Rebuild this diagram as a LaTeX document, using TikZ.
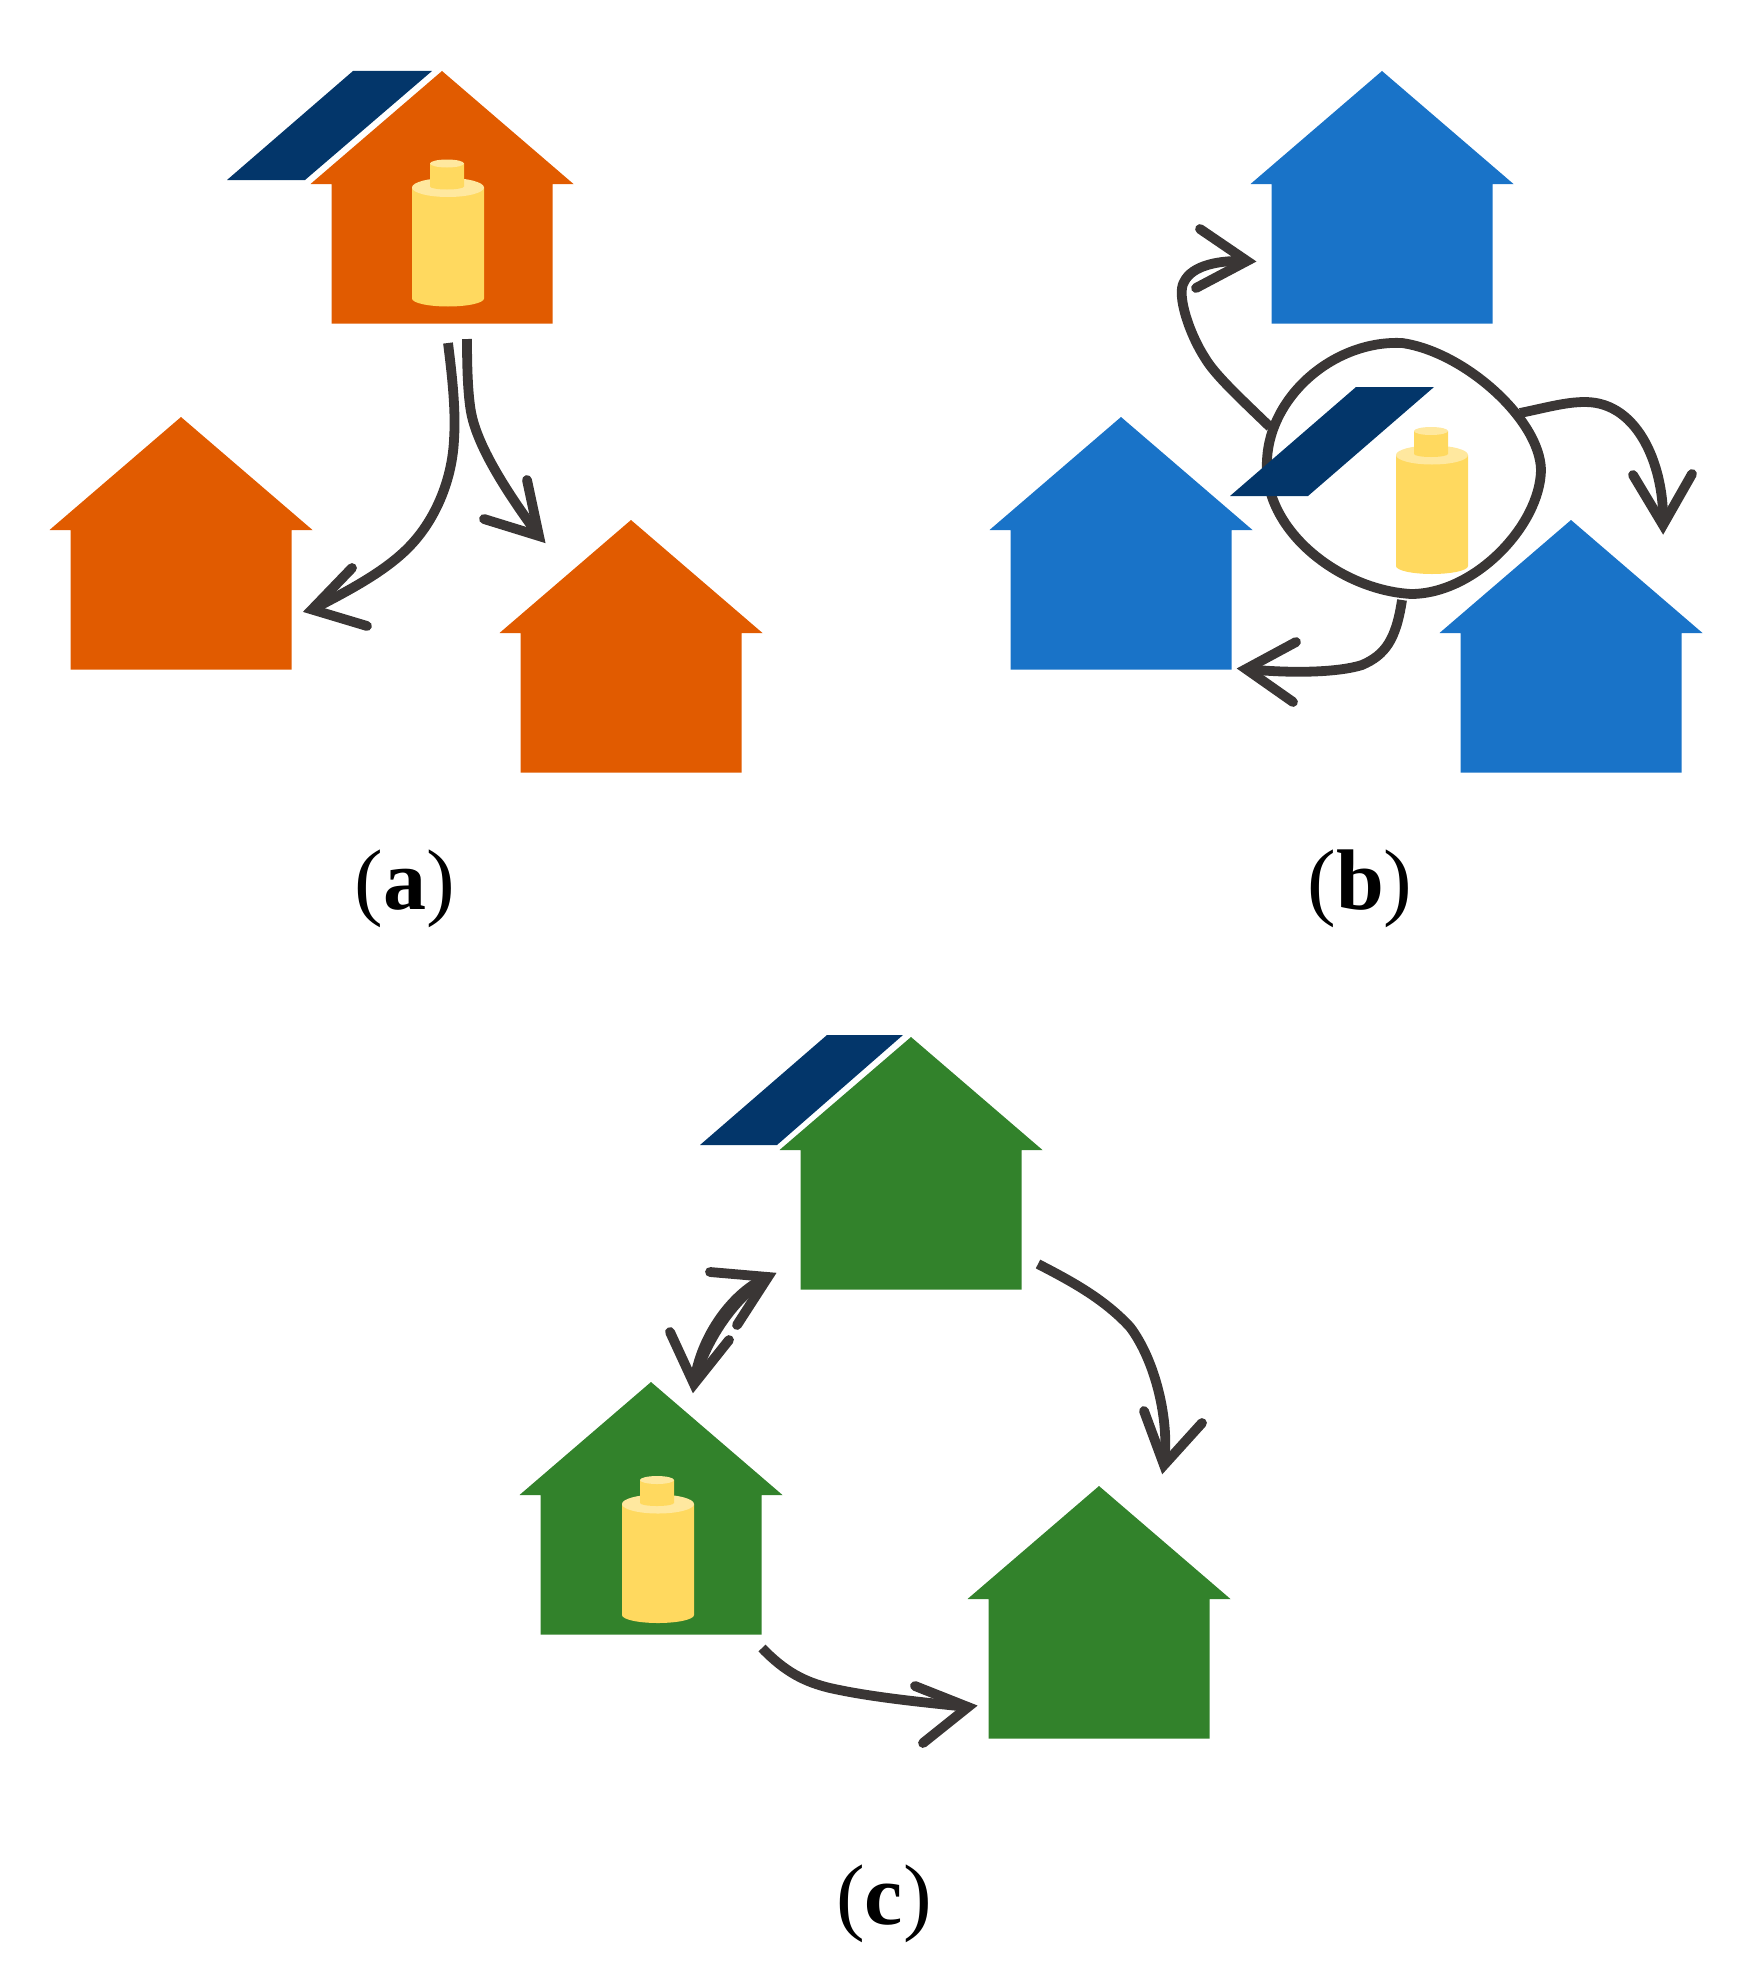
\documentclass[tikz,border=0pt]{standalone}
\usepackage{fontspec}
\setmainfont{Liberation Serif}
\definecolor{hOrange}{HTML}{E15B00}
\definecolor{hBlue}{HTML}{1973C8}
\definecolor{hGreen}{HTML}{32822B}
\definecolor{navy}{HTML}{03366A}
\definecolor{batt}{HTML}{FFD95F}
\definecolor{battTop}{HTML}{FFE89F}
\definecolor{ink}{HTML}{3A3635}
\tikzset{
  link/.style={draw=ink,line width=4.9pt,line cap=butt,line join=round},
  tip/.style={draw=ink,line width=4.9pt,line cap=round,line join=miter,miter limit=10},
  caption/.style={font=\fontsize{43pt}{48pt}\selectfont,text=black,inner sep=0pt},
  panelfill/.style={fill=navy},
  house/.pic={\fill[pic actions] (0,0) -- (131.5,113) -- (110.5,113) -- (110.5,252.5) -- (-110.5,252.5) -- (-110.5,113) -- (-131.5,113) -- cycle;},
  battery/.pic={
    \fill[batt] (0,0) -- (72,0) -- (72,111) arc[start angle=0,end angle=180,x radius=36,y radius=8] -- cycle;
    \fill[battTop] (36,0) ellipse[x radius=36,y radius=9.5];
    \fill[batt] (18,-24) -- (52,-24) -- (52,-1) arc[start angle=0,end angle=180,x radius=17,y radius=3] -- cycle;
    \fill[battTop] (35,-24) ellipse[x radius=17,y radius=4];
  }
}
\begin{document}
\begin{tikzpicture}[x=0.5pt,y=-0.5pt]
\useasboundingbox (0,0) rectangle (1756,1980);
% (a)
\pic[fill=hOrange] at (442,71) {house};
\pic[fill=hOrange] at (181,417) {house};
\pic[fill=hOrange] at (631,520) {house};
\fill[panelfill] (353,71) -- (432,71) -- (305,180) -- (227,180) -- cycle;
\pic at (412,187.5) {battery};
\coordinate (a1s) at (448,343);
\coordinate (a1t) at (312,609.5);
\coordinate (a2s) at (467,339);
\coordinate (a2t) at (539,536);
\draw[link] (a1s) .. controls (452,375) and (456,410) .. (454,440) .. controls (452,480) and (436,515) .. (417,538) .. controls (395,565) and (360,585) .. (a1t);
\draw[tip] (352,568) -- (a1t) -- (367,626);
\draw[link] (a2s) .. controls (467,370) and (468,395) .. (471,412) .. controls (477,445) and (505,490) .. (a2t);
\draw[tip] (527,480) -- (a2t) -- (484,519);
\node[caption] (capa) at (405,889) {(\textbf{a})};
% (b)
\pic[fill=hBlue] at (1382,71) {house};
\pic[fill=hBlue] at (1121,417) {house};
\pic[fill=hBlue] at (1571,520) {house};
\draw[link] (1402,343) .. controls (1465,352) and (1540,420) .. (1541,470) .. controls (1540,525) and (1475,594) .. (1411,594) .. controls (1340,590) and (1262,530) .. (1267,460) .. controls (1270,395) and (1335,340) .. cycle;
\fill[panelfill] (1356,387) -- (1434,387) -- (1308,496) -- (1230,496) -- cycle;
\pic at (1396,455) {battery};
\coordinate (b1s) at (1270,427);
\coordinate (b1t) at (1247,261);
\draw[link] (b1s) .. controls (1240,398) and (1215,375) .. (1205,358) .. controls (1190,335) and (1176,295) .. (1184,282) .. controls (1192,265) and (1220,260) .. (b1t);
\draw[tip] (1200,229) -- (b1t) -- (1196,288);
\coordinate (b2s) at (1520,413);
\coordinate (b2t) at (1663,525);
\draw[link] (b2s) .. controls (1545,408) and (1565,402) .. (1585,402) .. controls (1640,402) and (1665,470) .. (b2t);
\draw[tip] (1633,475) -- (b2t) -- (1692,474);
\coordinate (b3s) at (1402,600);
\coordinate (b3t) at (1246,669);
\draw[link] (b3s) .. controls (1396,640) and (1385,655) .. (1362,665) .. controls (1340,672) and (1295,674) .. (b3t);
\draw[tip] (1296,642) -- (b3t) -- (1293,702);
\node[caption] (capb) at (1360,889) {(\textbf{b})};
% (c)
\pic[fill=hGreen] at (911,1037) {house};
\pic[fill=hGreen] at (651,1382) {house};
\pic[fill=hGreen] at (1099,1486) {house};
\fill[panelfill] (827,1035) -- (903,1035) -- (777,1145) -- (700,1145) -- cycle;
\pic at (622,1504) {battery};
\coordinate (c1a) at (768,1277);
\coordinate (c1b) at (694,1384);
\draw[link] (c1a) .. controls (735,1290) and (700,1335) .. (c1b);
\draw[link] (c1a) .. controls (740,1293) and (706,1335) .. (c1b);
\draw[tip] (710,1272) -- (c1a) -- (737,1325);
\draw[tip] (670,1332) -- (c1b) -- (729,1340);
\coordinate (c2s) at (1038,1264);
\coordinate (c2t) at (1164,1465);
\draw[link] (c2s) .. controls (1075,1283) and (1105,1300) .. (1130,1327) .. controls (1155,1360) and (1170,1420) .. (c2t);
\draw[tip] (1144,1411) -- (c2t) -- (1202,1423);
\coordinate (c3s) at (762,1648);
\coordinate (c3t) at (968,1707);
\draw[link] (c3s) .. controls (785,1672) and (805,1682) .. (830,1688) .. controls (870,1697) and (920,1702) .. (c3t);
\draw[tip] (915,1686) -- (c3t) -- (923,1743);
\node[caption] (capc) at (884,1904) {(\textbf{c})};
\end{tikzpicture}
\end{document}
